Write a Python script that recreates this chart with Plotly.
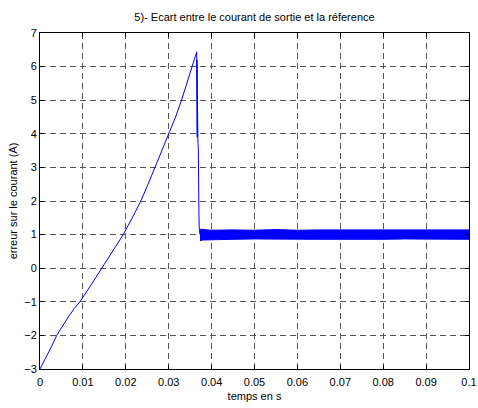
import plotly.graph_objects as go

# Rising part of the current error (s, A)
t_rise = [0.0, 0.0008, 0.0016, 0.0028, 0.0039, 0.0052, 0.0066, 0.0080, 0.0093, 0.0119,
          0.0144, 0.0169, 0.0194, 0.0215, 0.0235, 0.0252, 0.0268, 0.0285, 0.0301,
          0.0316, 0.0330, 0.0342, 0.0353, 0.0360, 0.03653]
y_rise = [-3.0, -2.8, -2.63, -2.3, -2.0, -1.72, -1.45, -1.2, -1.0, -0.5,
          0.0, 0.5, 1.0, 1.5, 2.0, 2.5, 3.0, 3.5, 4.0,
          4.5, 5.0, 5.5, 6.0, 6.25, 6.44]

# Fast collapse after the peak
t_drop = [0.03653, 0.03665, 0.03658, 0.03672, 0.03663, 0.03678, 0.03668, 0.03682,
          0.03690, 0.03690, 0.03705, 0.03713, 0.03722, 0.03730]
y_drop = [6.44, 3.9, 6.2, 3.8, 5.4, 3.75, 4.6, 3.72,
          3.6, 1.83, 1.6, 1.14, 1.05, 1.0]

# Steady-state ripple envelope
t_band = [0.0373, 0.0380, 0.040, 0.045, 0.050, 0.055, 0.060, 0.065, 0.070, 0.075,
          0.080, 0.085, 0.090, 0.095, 0.100]
band_hi = [1.16, 1.15, 1.13, 1.14, 1.13, 1.15, 1.13, 1.14, 1.14, 1.13,
           1.14, 1.13, 1.14, 1.13, 1.14]
band_lo = [0.82, 0.84, 0.86, 0.86, 0.87, 0.86, 0.87, 0.86, 0.86, 0.87,
           0.86, 0.87, 0.86, 0.87, 0.86]

x_ticks = [0, 0.01, 0.02, 0.03, 0.04, 0.05, 0.06, 0.07, 0.08, 0.09, 0.1]
x_tick_text = ["0", "0.01", "0.02", "0.03", "0.04", "0.05", "0.06", "0.07", "0.08", "0.09", "0.1"]
y_ticks = [-3, -2, -1, 0, 1, 2, 3, 4, 5, 6, 7]

BLUE = "#0000FF"
FONT = "Liberation Sans, Arial, sans-serif"

fig = go.Figure()

fig.add_trace(go.Scatter(
    x=t_band + t_band[::-1],
    y=band_hi + band_lo[::-1],
    mode="lines", fill="toself", fillcolor=BLUE,
    line=dict(color=BLUE, width=1), hoverinfo="skip", showlegend=False,
))
fig.add_trace(go.Scatter(
    x=t_rise + t_drop,
    y=y_rise + y_drop,
    mode="lines", line=dict(color=BLUE, width=1), showlegend=False,
))

axis_common = dict(
    showline=True, linecolor="black", linewidth=1, mirror="ticks",
    ticks="inside", ticklen=4, tickcolor="black", tickwidth=1,
    showgrid=True, gridcolor="#555555", gridwidth=1, griddash="6px,4px",
    zeroline=False, automargin=False,
    tickfont=dict(family=FONT, size=11, color="black"),
)

fig.update_xaxes(
    range=[0, 0.1], tickvals=x_ticks, ticktext=x_tick_text, ticklabelstandoff=3,
    title=dict(text="temps en s", font=dict(family=FONT, size=11, color="black"), standoff=5),
    **axis_common,
)
fig.update_yaxes(
    range=[-3, 7], tickvals=y_ticks,
    title=dict(text="erreur sur le courant (A)", font=dict(family=FONT, size=11, color="black"), standoff=4),
    **axis_common,
)

fig.update_layout(
    width=478, height=408,
    margin=dict(l=40, r=9, t=33, b=39),
    paper_bgcolor="white", plot_bgcolor="white",
    title=dict(text="5)- Ecart entre le courant de sortie et la réference",
               font=dict(family=FONT, size=11, color="black"),
               x=254.5 / 478, xanchor="center", y=1 - 17 / 408, yanchor="middle"),
)

fig.write_html("out.html")
